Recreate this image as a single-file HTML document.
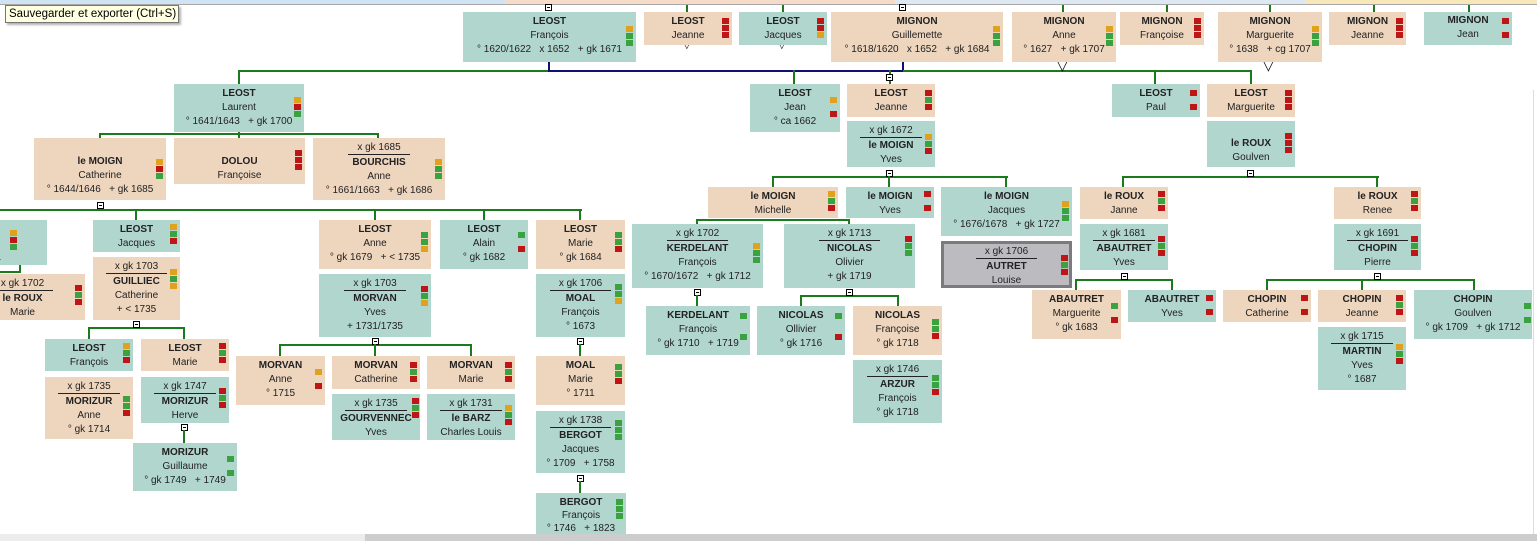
<!DOCTYPE html>
<html><head><meta charset="utf-8"><style>
body{margin:0;width:1537px;height:541px;overflow:hidden;background:#fff;position:relative;font-family:"Liberation Sans",Arial,sans-serif}
.b{position:absolute;box-sizing:border-box;text-align:center;font-size:10px;line-height:14px;color:#222;padding-top:3px;white-space:nowrap}
.t{background:#b1d6ce}.e{background:#eed5be}
.b b{display:block;font-weight:bold}
.b div{display:block}
.m{display:inline-block;border-bottom:1px solid #222;padding:0 9px;line-height:12px;margin-bottom:1px}
.i{position:absolute;right:3px;top:6px;width:7px}
.i span{display:block;height:6px;margin-bottom:1px}
.o{background:#e0a21c}.r{background:#be1616}.g{background:#3aa33f}.n{background:transparent}
.h{position:absolute;height:2px;background:#1b7a1b}
.v{position:absolute;width:2px;background:#1b7a1b}
.x{position:absolute;width:7px;height:7px;border:1px solid #000;background:#fff;box-sizing:border-box}
.x:after{content:"";position:absolute;left:1px;right:1px;top:2px;height:1px;background:#000}
.tri{position:absolute;font-size:14px;line-height:14px;color:#000}
</style></head><body>
<div style="position:absolute;left:0;top:0;width:505px;height:4px;background:#cfe3f3"></div>
<div style="position:absolute;left:505px;top:0;width:390px;height:4px;background:#f6dcc8"></div>
<div style="position:absolute;left:895px;top:0;width:410px;height:4px;background:#dde8f3"></div>
<div style="position:absolute;left:1305px;top:0;width:232px;height:4px;background:#f8e7b8"></div>
<div style="position:absolute;left:0;top:4px;width:1537px;height:1px;background:#a8a8a8"></div>
<div style="position:absolute;left:1533px;top:90px;width:1px;height:444px;background:#ddd"></div>
<div style="position:absolute;left:0;top:534px;width:1537px;height:7px;background:#ececec"></div>
<div style="position:absolute;left:365px;top:534px;width:1172px;height:7px;background:#cdcdcd"></div>

<div class="h" style="left:239px;top:70px;width:310px"></div>
<div class="h" style="left:548px;top:70px;width:356px;background:#101070"></div>
<div class="v" style="left:548px;top:62px;height:9px;background:#101070"></div>
<div class="v" style="left:902px;top:62px;height:9px;background:#101070"></div>
<div class="h" style="left:903px;top:70px;width:349px"></div>
<div class="v" style="left:238px;top:70px;height:14px"></div>
<div class="v" style="left:793px;top:70px;height:14px"></div>
<div class="v" style="left:889px;top:70px;height:14px"></div>
<div class="v" style="left:1154px;top:70px;height:14px"></div>
<div class="v" style="left:1250px;top:70px;height:14px"></div>
<div class="x" style="left:886px;top:74px"></div>
<div class="x" style="left:545px;top:4px"></div>
<div class="x" style="left:899px;top:4px"></div>
<div class="v" style="left:686px;top:5px;height:7px"></div>
<div class="v" style="left:782px;top:5px;height:7px"></div>
<div class="v" style="left:1062px;top:5px;height:7px"></div>
<div class="v" style="left:1166px;top:5px;height:7px"></div>
<div class="v" style="left:1269px;top:5px;height:7px"></div>
<div class="v" style="left:1373px;top:5px;height:7px"></div>
<div class="v" style="left:1468px;top:5px;height:7px"></div>
<div class="tri" style="left:1057px;top:58px">▽</div>
<div class="tri" style="left:1263px;top:58px">▽</div>
<div class="tri" style="left:683px;top:39px;font-size:10px">▽</div>
<div class="tri" style="left:778px;top:39px;font-size:10px">▽</div>

<div class="h" style="left:99px;top:133px;width:280px"></div>
<div class="v" style="left:99px;top:133px;height:5px"></div>
<div class="v" style="left:377px;top:133px;height:5px"></div>
<div class="v" style="left:238px;top:132px;height:6px"></div>

<div class="h" style="left:0;top:209px;width:582px"></div>
<div class="x" style="left:97px;top:202px"></div>
<div class="v" style="left:135px;top:209px;height:11px"></div>
<div class="v" style="left:374px;top:209px;height:11px"></div>
<div class="v" style="left:483px;top:209px;height:11px"></div>
<div class="v" style="left:579px;top:209px;height:11px"></div>
<div class="h" style="left:0;top:271px;width:20px"></div>
<div class="v" style="left:19px;top:265px;height:8px"></div>

<div class="h" style="left:88px;top:327px;width:96px"></div>
<div class="x" style="left:133px;top:321px"></div>
<div class="v" style="left:88px;top:327px;height:12px"></div>
<div class="v" style="left:183px;top:327px;height:12px"></div>
<div class="x" style="left:181px;top:424px"></div>
<div class="v" style="left:183px;top:430px;height:13px"></div>

<div class="h" style="left:279px;top:344px;width:193px"></div>
<div class="x" style="left:372px;top:338px"></div>
<div class="v" style="left:279px;top:344px;height:12px"></div>
<div class="v" style="left:374px;top:344px;height:12px"></div>
<div class="v" style="left:470px;top:344px;height:12px"></div>

<div class="x" style="left:577px;top:338px"></div>
<div class="v" style="left:579px;top:344px;height:12px"></div>
<div class="x" style="left:577px;top:475px"></div>
<div class="v" style="left:579px;top:481px;height:12px"></div>

<div class="h" style="left:772px;top:176px;width:236px"></div>
<div class="x" style="left:886px;top:170px"></div>
<div class="v" style="left:772px;top:176px;height:11px"></div>
<div class="v" style="left:888px;top:176px;height:11px"></div>
<div class="v" style="left:1005px;top:176px;height:11px"></div>

<div class="h" style="left:1122px;top:176px;width:257px"></div>
<div class="x" style="left:1247px;top:170px"></div>
<div class="v" style="left:1122px;top:176px;height:11px"></div>
<div class="v" style="left:1376px;top:176px;height:11px"></div>

<div class="h" style="left:696px;top:219px;width:154px"></div>
<div class="v" style="left:696px;top:219px;height:5px"></div>
<div class="v" style="left:848px;top:219px;height:5px"></div>
<div class="x" style="left:694px;top:289px"></div>
<div class="v" style="left:696px;top:295px;height:11px"></div>
<div class="h" style="left:800px;top:295px;width:99px"></div>
<div class="x" style="left:846px;top:289px"></div>
<div class="v" style="left:800px;top:295px;height:11px"></div>
<div class="v" style="left:897px;top:295px;height:11px"></div>

<div class="h" style="left:1075px;top:279px;width:98px"></div>
<div class="x" style="left:1121px;top:273px"></div>
<div class="v" style="left:1075px;top:279px;height:11px"></div>
<div class="v" style="left:1171px;top:279px;height:11px"></div>
<div class="h" style="left:1266px;top:279px;width:209px"></div>
<div class="x" style="left:1374px;top:273px"></div>
<div class="v" style="left:1266px;top:279px;height:11px"></div>
<div class="v" style="left:1361px;top:279px;height:11px"></div>
<div class="v" style="left:1473px;top:279px;height:11px"></div>

<div class="b t" style="left:463px;top:12px;width:173px;height:50px"><b>LEOST</b><div>François</div><div>° 1620/1622 &nbsp; x 1652 &nbsp; + gk 1671</div><div class="i" style="top:14px"><span class="o"></span><span class="g"></span><span class="g"></span></div></div>
<div class="b e" style="left:644px;top:12px;width:88px;height:33px"><b>LEOST</b><div>Jeanne</div><div class="i"><span class="r"></span><span class="r"></span><span class="r"></span></div></div>
<div class="b t" style="left:739px;top:12px;width:88px;height:33px"><b>LEOST</b><div>Jacques</div><div class="i"><span class="r"></span><span class="r"></span><span class="o"></span></div></div>
<div class="b e" style="left:831px;top:12px;width:172px;height:50px"><b>MIGNON</b><div>Guillemette</div><div>° 1618/1620 &nbsp; x 1652 &nbsp; + gk 1684</div><div class="i" style="top:14px"><span class="o"></span><span class="g"></span><span class="g"></span></div></div>
<div class="b e" style="left:1012px;top:12px;width:104px;height:50px"><b>MIGNON</b><div>Anne</div><div>° 1627 &nbsp; + gk 1707</div><div class="i" style="top:14px"><span class="o"></span><span class="g"></span><span class="g"></span></div></div>
<div class="b e" style="left:1120px;top:12px;width:84px;height:33px"><b>MIGNON</b><div>Françoise</div><div class="i"><span class="r"></span><span class="r"></span><span class="r"></span></div></div>
<div class="b e" style="left:1218px;top:12px;width:104px;height:50px"><b>MIGNON</b><div>Marguerite</div><div>° 1638 &nbsp; + cg 1707</div><div class="i" style="top:14px"><span class="o"></span><span class="g"></span><span class="g"></span></div></div>
<div class="b e" style="left:1329px;top:12px;width:77px;height:33px"><b>MIGNON</b><div>Jeanne</div><div class="i"><span class="r"></span><span class="r"></span><span class="r"></span></div></div>
<div class="b t" style="left:1424px;top:12px;width:88px;height:33px;padding-top:2px"><b>MIGNON</b><div>Jean</div><div class="i"><span class="r"></span><span class="n"></span><span class="r"></span></div></div>

<div class="b t" style="left:174px;top:84px;width:130px;height:48px"><b>LEOST</b><div>Laurent</div><div>° 1641/1643 &nbsp; + gk 1700</div><div class="i" style="top:13px"><span class="o"></span><span class="r"></span><span class="g"></span></div></div>
<div class="b t" style="left:750px;top:84px;width:90px;height:48px"><b>LEOST</b><div>Jean</div><div>° ca 1662</div><div class="i" style="top:13px"><span class="o"></span><span class="n"></span><span class="r"></span></div></div>
<div class="b e" style="left:847px;top:84px;width:88px;height:33px"><b>LEOST</b><div>Jeanne</div><div class="i"><span class="r"></span><span class="g"></span><span class="r"></span></div></div>
<div class="b t" style="left:847px;top:121px;width:88px;height:46px"><span class="m">x gk 1672</span><b>le MOIGN</b><div>Yves</div><div class="i" style="top:13px"><span class="o"></span><span class="g"></span><span class="r"></span></div></div>
<div class="b t" style="left:1112px;top:84px;width:88px;height:33px"><b>LEOST</b><div>Paul</div><div class="i"><span class="r"></span><span class="n"></span><span class="r"></span></div></div>
<div class="b e" style="left:1207px;top:84px;width:88px;height:33px"><b>LEOST</b><div>Marguerite</div><div class="i"><span class="r"></span><span class="r"></span><span class="r"></span></div></div>
<div class="b t" style="left:1207px;top:121px;width:88px;height:46px;padding-top:16px"><b>le ROUX</b><div>Goulven</div><div class="i" style="top:12px"><span class="r"></span><span class="r"></span><span class="r"></span></div></div>

<div class="b e" style="left:34px;top:138px;width:132px;height:62px;padding-top:17px"><b>le MOIGN</b><div>Catherine</div><div>° 1644/1646 &nbsp; + gk 1685</div><div class="i" style="top:21px"><span class="o"></span><span class="r"></span><span class="g"></span></div></div>
<div class="b e" style="left:174px;top:138px;width:131px;height:46px;padding-top:17px"><b>DOLOU</b><div>Françoise</div><div class="i" style="top:12px"><span class="r"></span><span class="r"></span><span class="r"></span></div></div>
<div class="b e" style="left:313px;top:138px;width:132px;height:62px"><span class="m">x gk 1685</span><b>BOURCHIS</b><div>Anne</div><div>° 1661/1663 &nbsp; + gk 1686</div><div class="i" style="top:21px"><span class="o"></span><span class="g"></span><span class="g"></span></div></div>

<div class="b t" style="left:-40px;top:220px;width:87px;height:45px;text-align:right;padding-right:46px"><b>&nbsp;</b><div>&nbsp;</div><div>1</div><div class="i" style="right:30px;top:10px"><span class="o"></span><span class="r"></span><span class="g"></span></div></div>
<div class="b e" style="left:-40px;top:274px;width:125px;height:46px"><span class="m">x gk 1702</span><b>le ROUX</b><div>Marie</div><div class="i" style="top:11px"><span class="r"></span><span class="g"></span><span class="r"></span></div></div>
<div class="b t" style="left:93px;top:220px;width:87px;height:32px"><b>LEOST</b><div>Jacques</div><div class="i" style="top:4px"><span class="o"></span><span class="g"></span><span class="r"></span></div></div>
<div class="b e" style="left:93px;top:257px;width:87px;height:63px"><span class="m">x gk 1703</span><b>GUILLIEC</b><div>Catherine</div><div>+ &lt; 1735</div><div class="i" style="top:12px"><span class="o"></span><span class="g"></span><span class="o"></span></div></div>
<div class="b e" style="left:319px;top:220px;width:112px;height:49px"><b>LEOST</b><div>Anne</div><div>° gk 1679 &nbsp; + &lt; 1735</div><div class="i" style="top:12px"><span class="g"></span><span class="g"></span><span class="o"></span></div></div>
<div class="b t" style="left:319px;top:274px;width:112px;height:63px"><span class="m">x gk 1703</span><b>MORVAN</b><div>Yves</div><div>+ 1731/1735</div><div class="i" style="top:12px"><span class="r"></span><span class="g"></span><span class="o"></span></div></div>
<div class="b t" style="left:440px;top:220px;width:88px;height:49px"><b>LEOST</b><div>Alain</div><div>° gk 1682</div><div class="i" style="top:12px"><span class="g"></span><span class="n"></span><span class="r"></span></div></div>
<div class="b e" style="left:536px;top:220px;width:89px;height:49px"><b>LEOST</b><div>Marie</div><div>° gk 1684</div><div class="i" style="top:12px"><span class="g"></span><span class="g"></span><span class="r"></span></div></div>
<div class="b t" style="left:536px;top:274px;width:89px;height:63px"><span class="m">x gk 1706</span><b>MOAL</b><div>François</div><div>° 1673</div><div class="i" style="top:10px"><span class="g"></span><span class="g"></span><span class="o"></span></div></div>

<div class="b t" style="left:45px;top:339px;width:88px;height:32px"><b>LEOST</b><div>François</div><div class="i" style="top:4px"><span class="o"></span><span class="g"></span><span class="r"></span></div></div>
<div class="b e" style="left:45px;top:377px;width:88px;height:62px"><span class="m">x gk 1735</span><b>MORIZUR</b><div>Anne</div><div>° gk 1714</div><div class="i" style="top:19px"><span class="g"></span><span class="g"></span><span class="r"></span></div></div>
<div class="b e" style="left:141px;top:339px;width:88px;height:32px"><b>LEOST</b><div>Marie</div><div class="i" style="top:4px"><span class="r"></span><span class="g"></span><span class="r"></span></div></div>
<div class="b t" style="left:141px;top:377px;width:88px;height:46px"><span class="m">x gk 1747</span><b>MORIZUR</b><div>Herve</div><div class="i" style="top:11px"><span class="r"></span><span class="g"></span><span class="r"></span></div></div>
<div class="b t" style="left:133px;top:443px;width:104px;height:48px"><b>MORIZUR</b><div>Guillaume</div><div>° gk 1749 &nbsp; + 1749</div><div class="i" style="top:13px"><span class="g"></span><span class="n"></span><span class="g"></span></div></div>

<div class="b e" style="left:236px;top:356px;width:89px;height:49px"><b>MORVAN</b><div>Anne</div><div>° 1715</div><div class="i" style="top:13px"><span class="o"></span><span class="n"></span><span class="r"></span></div></div>
<div class="b e" style="left:332px;top:356px;width:88px;height:33px"><b>MORVAN</b><div>Catherine</div><div class="i"><span class="r"></span><span class="g"></span><span class="r"></span></div></div>
<div class="b t" style="left:332px;top:394px;width:88px;height:46px"><span class="m">x gk 1735</span><b>GOURVENNEC</b><div>Yves</div><div class="i" style="top:4px;right:1px"><span class="r"></span><span class="g"></span><span class="r"></span></div></div>
<div class="b e" style="left:427px;top:356px;width:88px;height:33px"><b>MORVAN</b><div>Marie</div><div class="i"><span class="r"></span><span class="g"></span><span class="r"></span></div></div>
<div class="b t" style="left:427px;top:394px;width:88px;height:46px"><span class="m">x gk 1731</span><b>le BARZ</b><div>Charles Louis</div><div class="i" style="top:11px"><span class="o"></span><span class="g"></span><span class="r"></span></div></div>

<div class="b e" style="left:536px;top:356px;width:89px;height:49px"><b>MOAL</b><div>Marie</div><div>° 1711</div><div class="i" style="top:8px"><span class="g"></span><span class="g"></span><span class="r"></span></div></div>
<div class="b t" style="left:536px;top:411px;width:89px;height:62px"><span class="m">x gk 1738</span><b>BERGOT</b><div>Jacques</div><div>° 1709 &nbsp; + 1758</div><div class="i" style="top:9px"><span class="g"></span><span class="g"></span><span class="g"></span></div></div>
<div class="b t" style="left:536px;top:493px;width:90px;height:41px;overflow:hidden"><b>BERGOT</b><div style="line-height:12px">François</div><div>° 1746 &nbsp; + 1823</div><div class="i" style="top:6px"><span class="g"></span><span class="g"></span><span class="g"></span></div></div>

<div class="b e" style="left:708px;top:187px;width:130px;height:31px"><b>le MOIGN</b><div>Michelle</div><div class="i" style="top:4px"><span class="o"></span><span class="g"></span><span class="r"></span></div></div>
<div class="b t" style="left:846px;top:187px;width:88px;height:31px"><b>le MOIGN</b><div>Yves</div><div class="i" style="top:4px"><span class="r"></span><span class="n"></span><span class="r"></span></div></div>
<div class="b t" style="left:941px;top:187px;width:131px;height:49px"><b>le MOIGN</b><div>Jacques</div><div>° 1676/1678 &nbsp; + gk 1727</div><div class="i" style="top:14px"><span class="o"></span><span class="g"></span><span class="g"></span></div></div>
<div class="b" style="left:941px;top:241px;width:131px;height:47px;background:#bcbcc0;border:3px solid #7b7b7e;padding-top:1px"><span class="m">x gk 1706</span><b>AUTRET</b><div>Louise</div><div class="i" style="top:11px;right:1px"><span class="r"></span><span class="g"></span><span class="r"></span></div></div>

<div class="b t" style="left:632px;top:224px;width:131px;height:64px"><span class="m">x gk 1702</span><b>KERDELANT</b><div>François</div><div>° 1670/1672 &nbsp; + gk 1712</div><div class="i" style="top:19px"><span class="o"></span><span class="g"></span><span class="g"></span></div></div>
<div class="b t" style="left:784px;top:224px;width:131px;height:64px"><span class="m">x gk 1713</span><b>NICOLAS</b><div>Olivier</div><div>+ gk 1719</div><div class="i" style="top:12px"><span class="r"></span><span class="g"></span><span class="g"></span></div></div>
<div class="b t" style="left:646px;top:306px;width:104px;height:49px"><b>KERDELANT</b><div>François</div><div>° gk 1710 &nbsp; + 1719</div><div class="i" style="top:7px"><span class="g"></span><span class="n"></span><span class="n"></span><span class="g"></span></div></div>
<div class="b t" style="left:757px;top:306px;width:88px;height:49px"><b>NICOLAS</b><div>Ollivier</div><div>° gk 1716</div><div class="i" style="top:7px"><span class="g"></span><span class="n"></span><span class="n"></span><span class="r"></span></div></div>
<div class="b e" style="left:853px;top:306px;width:89px;height:49px"><b>NICOLAS</b><div>Françoise</div><div>° gk 1718</div><div class="i" style="top:13px"><span class="g"></span><span class="g"></span><span class="r"></span></div></div>
<div class="b t" style="left:853px;top:360px;width:89px;height:63px"><span class="m">x gk 1746</span><b>ARZUR</b><div>François</div><div>° gk 1718</div><div class="i" style="top:15px"><span class="g"></span><span class="g"></span><span class="r"></span></div></div>

<div class="b e" style="left:1080px;top:187px;width:88px;height:32px"><b>le ROUX</b><div>Janne</div><div class="i" style="top:4px"><span class="r"></span><span class="g"></span><span class="r"></span></div></div>
<div class="b t" style="left:1080px;top:224px;width:88px;height:46px"><span class="m">x gk 1681</span><b>ABAUTRET</b><div>Yves</div><div class="i" style="top:12px"><span class="r"></span><span class="g"></span><span class="r"></span></div></div>
<div class="b e" style="left:1334px;top:187px;width:87px;height:32px"><b>le ROUX</b><div>Renee</div><div class="i" style="top:4px"><span class="r"></span><span class="g"></span><span class="r"></span></div></div>
<div class="b t" style="left:1334px;top:224px;width:87px;height:46px"><span class="m">x gk 1691</span><b>CHOPIN</b><div>Pierre</div><div class="i" style="top:12px"><span class="r"></span><span class="g"></span><span class="r"></span></div></div>

<div class="b e" style="left:1032px;top:290px;width:89px;height:49px"><b>ABAUTRET</b><div>Marguerite</div><div>° gk 1683</div><div class="i" style="top:13px"><span class="g"></span><span class="n"></span><span class="r"></span></div></div>
<div class="b t" style="left:1128px;top:290px;width:88px;height:32px"><b>ABAUTRET</b><div>Yves</div><div class="i" style="top:5px"><span class="r"></span><span class="n"></span><span class="r"></span></div></div>
<div class="b e" style="left:1223px;top:290px;width:88px;height:32px"><b>CHOPIN</b><div>Catherine</div><div class="i" style="top:5px"><span class="r"></span><span class="n"></span><span class="r"></span></div></div>
<div class="b e" style="left:1318px;top:290px;width:88px;height:32px"><b>CHOPIN</b><div>Jeanne</div><div class="i" style="top:5px"><span class="r"></span><span class="g"></span><span class="r"></span></div></div>
<div class="b t" style="left:1318px;top:327px;width:88px;height:63px"><span class="m">x gk 1715</span><b>MARTIN</b><div>Yves</div><div>° 1687</div><div class="i" style="top:17px"><span class="o"></span><span class="g"></span><span class="r"></span></div></div>
<div class="b t" style="left:1414px;top:290px;width:118px;height:49px"><b>CHOPIN</b><div>Goulven</div><div>° gk 1709 &nbsp; + gk 1712</div><div class="i" style="top:13px;right:1px"><span class="g"></span><span class="n"></span><span class="g"></span></div></div>

<div style="position:absolute;left:5px;top:5px;width:174px;height:18px;box-sizing:border-box;background:#ffffe1;border:1px solid #767676;box-shadow:2px 2px 2px rgba(0,0,0,.3);font-size:11.5px;line-height:16px;padding-left:3px;color:#000;white-space:nowrap">Sauvegarder et exporter (Ctrl+S)</div>
</body></html>
